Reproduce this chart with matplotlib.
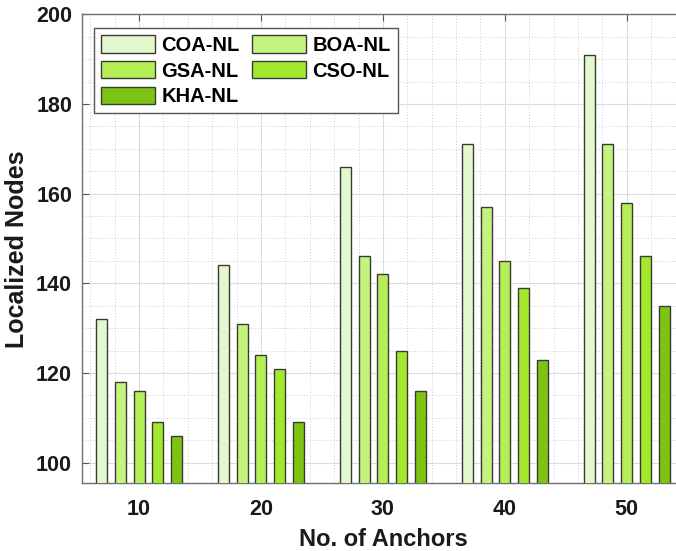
import matplotlib
matplotlib.use('Agg')
import matplotlib.pyplot as plt
import matplotlib.ticker as mticker
import numpy as np

plt.rcParams['font.family'] = ['Liberation Sans', 'DejaVu Sans']
plt.rcParams['font.weight'] = 'bold'

ANCHORS = [10, 20, 30, 40, 50]
METHODS = ["COA-NL", "BOA-NL", "GSA-NL", "CSO-NL", "KHA-NL"]
COA = [132, 144, 166, 171, 191]
BOA = [118, 131, 146, 157, 171]
GSA = [116, 124, 142, 145, 158]
CSO = [109, 121, 125, 139, 146]
KHA = [106, 109, 116, 123, 135]
COLORS = ["#E3F8CC", "#C5F47E", "#B5EF55", "#A2E82C", "#7EC512"]

fig = plt.figure(figsize=(6.76, 5.51), dpi=100)
fig.patch.set_facecolor("white")
ax = fig.add_axes([0.1209, 0.1229, 0.891, 0.8511])

series = [COA, BOA, GSA, CSO, KHA]
pitch, w = 1.54, 0.9
x = np.array(ANCHORS, dtype=float)
bars = []
for i, (vals, name, c) in enumerate(zip(series, METHODS, COLORS)):
    b = ax.bar(x + (i - 2) * pitch, vals, w, color=c, edgecolor="#3a3a3a",
               linewidth=1.0, label=name, zorder=3)
    bars.append(b)

ax.set_xlim(5.3, 54.7)
ax.set_ylim(95.4, 200)
ax.set_xticks(ANCHORS)
ax.set_yticks([100, 120, 140, 160, 180, 200])
ax.xaxis.set_minor_locator(mticker.MultipleLocator(2))
ax.yaxis.set_minor_locator(mticker.MultipleLocator(5))
ax.grid(which="major", color="#dcdcdc", linewidth=0.8, zorder=0)
ax.grid(which="minor", color="#cccccc", linestyle=(0, (1, 2)), linewidth=0.7, zorder=0)
ax.tick_params(which="major", direction="in", length=5, width=0.8, color="#555555",
               top=True, right=True, labelsize=15.5, labelcolor="#1a1a1a")
ax.tick_params(axis="x", pad=11)
ax.tick_params(axis="y", pad=7)
ax.tick_params(which="minor", length=0)
for lab in ax.get_xticklabels() + ax.get_yticklabels():
    lab.set_fontweight("bold")
for sp in ax.spines.values():
    sp.set_color("#707070")
    sp.set_linewidth(1.0)

ax.set_xlabel("No. of Anchors", fontsize=17, fontweight="bold", labelpad=6, color="#1a1a1a")
ax.set_ylabel("Localized Nodes", fontsize=18, fontweight="bold", labelpad=5, color="#1a1a1a")

# row-major order like the reference legend
order = [0, 2, 4, 1, 3]
leg = ax.legend([bars[k] for k in order], [METHODS[k] for k in order],
                ncol=2, loc="upper left", bbox_to_anchor=(94 / 676, 1 - 28.3 / 551),
                bbox_transform=fig.transFigure, fancybox=False, framealpha=1,
                edgecolor="#555555", fontsize=14.5, handlelength=2.7, handleheight=0.95,
                columnspacing=0.6, handletextpad=0.3, labelspacing=0.3, borderpad=0.35,
                borderaxespad=0)
for t in leg.get_texts():
    t.set_fontweight("bold")
leg.get_frame().set_linewidth(1.0)

fig.savefig("out.png", dpi=100, facecolor="white")
